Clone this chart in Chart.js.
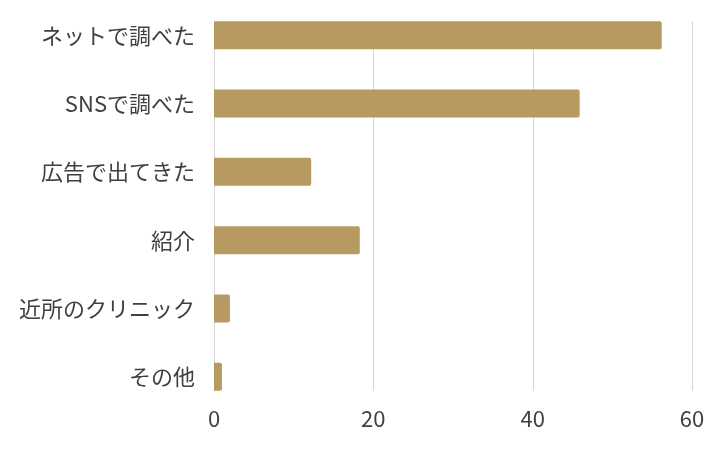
<!DOCTYPE html>
<html>
<head>
<meta charset="utf-8">
<script src="https://cdn.jsdelivr.net/npm/chart.js@4"></script>
<style>
html,body{margin:0;padding:0;background:#fff;}
#wrap{width:720px;height:450px;}
</style>
</head>
<body>
<div id="wrap"><canvas id="c" width="720" height="450"></canvas></div>
<script>
const categories = ["ネットで調べた","SNSで調べた","広告で出てきた","紹介","近所のクリニック","その他"];
const values = [56.2, 45.9, 12.2, 18.3, 2.0, 1.0];
const xTicks = [0, 20, 40, 60];

const gridPlugin = {
  id: 'barGrid',
  beforeDatasetsDraw(chart) {
    const meta = chart.getDatasetMeta(0);
    const first = meta.data[0], last = meta.data[meta.data.length - 1];
    const top = first.y - first.height / 2;
    const bottom = last.y + last.height / 2;
    const xs = chart.scales.x;
    const ctx = chart.ctx;
    ctx.save();
    ctx.strokeStyle = '#d6d6d6';
    ctx.lineWidth = 1;
    xTicks.forEach(v => {
      const px = Math.round(xs.getPixelForValue(v)) + 0.5;
      ctx.beginPath();
      ctx.moveTo(px, top);
      ctx.lineTo(px, bottom);
      ctx.stroke();
    });
    ctx.restore();
  }
};

const fontFamily = '"Noto Sans CJK JP", "Noto Sans", sans-serif';

new Chart(document.getElementById('c'), {
  type: 'bar',
  data: {
    labels: categories,
    datasets: [{
      data: values,
      backgroundColor: '#b79a62',
      borderRadius: 2,
      borderSkipped: 'start',
      barPercentage: 0.41,
      categoryPercentage: 1.0
    }]
  },
  options: {
    indexAxis: 'y',
    responsive: false,
    animation: false,
    devicePixelRatio: 1,
    layout: { padding: { left: 0, right: 28, top: 1, bottom: 9 } },
    plugins: { legend: { display: false }, tooltip: { enabled: false } },
    scales: {
      x: {
        min: 0, max: 60,
        afterBuildTicks(scale) { scale.ticks = xTicks.map(v => ({ value: v })); },
        afterFit(scale) { scale.height = 30; },
        grid: { display: false, drawTicks: false },
        border: { display: false },
        ticks: {
          padding: -6,
          color: '#404040',
          font: { family: fontFamily, size: 22, lineHeight: 1.2 }
        }
      },
      y: {
        afterFit(scale) { scale.paddingTop = 0; scale.paddingBottom = 0; },
        grid: { display: false, drawTicks: false },
        border: { display: false },
        ticks: {
          padding: 19,
          color: '#404040',
          font: { family: fontFamily, size: 22 }
        }
      }
    }
  },
  plugins: [gridPlugin]
});
</script>
</body>
</html>
